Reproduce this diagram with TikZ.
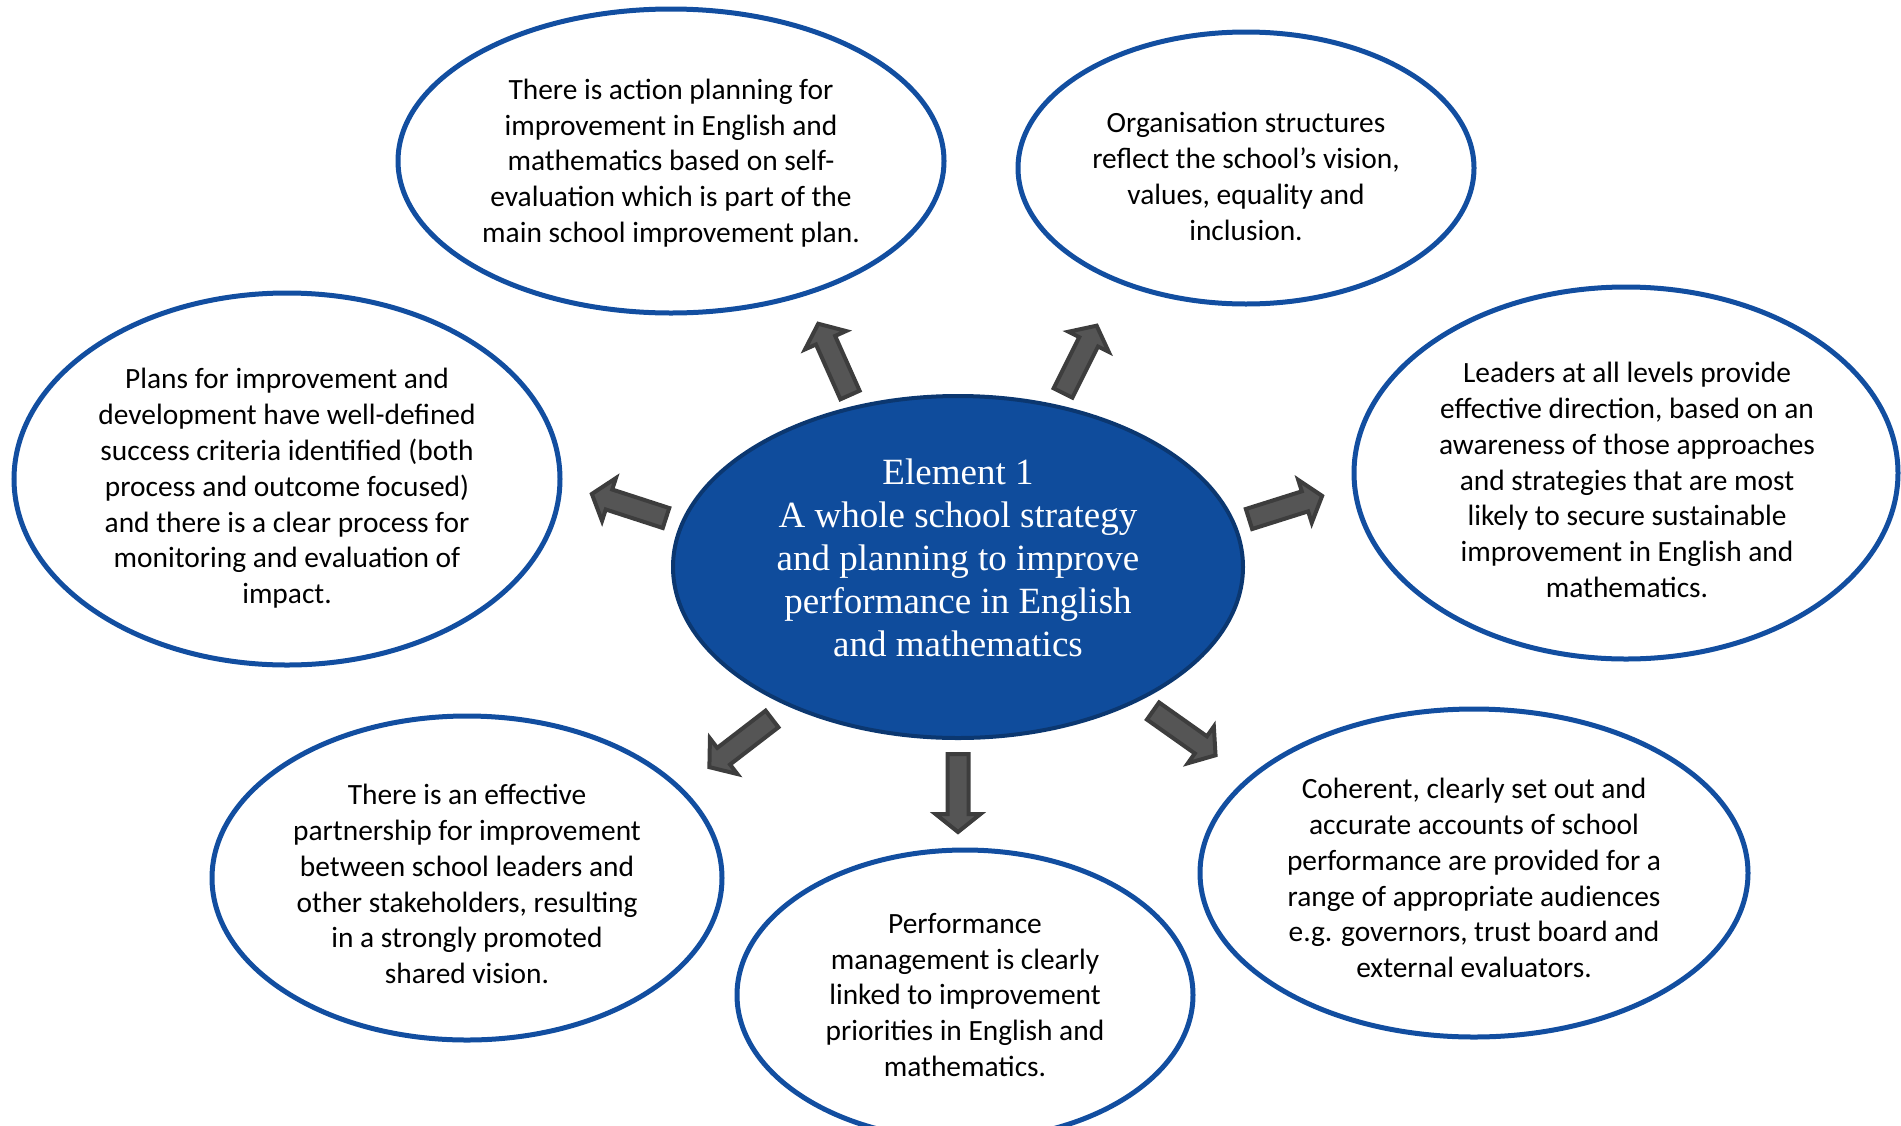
\documentclass[tikz,border=0pt]{standalone}
\usepackage{fontspec}
\setmainfont{Carlito}
\newfontfamily\timesfont{Liberation Serif}
\usetikzlibrary{shapes.geometric,calc}
\definecolor{ringblue}{HTML}{124EA0}
\definecolor{coreblue}{HTML}{0F4C9C}
\definecolor{coreline}{HTML}{0B3770}
\definecolor{arrowfill}{HTML}{555555}
\definecolor{arrowline}{HTML}{3D3D3D}
\tikzset{
 ring/.style={ellipse, draw=ringblue, line width=5pt, fill=white, inner sep=0pt},
 ringtext/.style={inner sep=0pt, align=center, font=\fontsize{29.4}{35.8}\selectfont},
 core/.style={ellipse, draw=coreline, line width=4pt, fill=coreblue, inner sep=0pt},
 coretext/.style={inner sep=0pt, text=white, align=center, font=\timesfont\fontsize{37}{43}\selectfont},
 blk/.style={fill=arrowfill, draw=arrowline, line width=4pt, line join=miter}
}
\newcommand\blkarrow[2]{%
 \draw[blk] let \p1=($(#2)-(#1)$), \n1={atan2(\y1,\x1)}, \n2={veclen(\x1,\y1)} in
  [shift={(#1)}, rotate=\n1] (0pt,-10.5pt) -- (\n2-21pt,-10.5pt) -- (\n2-21pt,-22.5pt) -- (\n2-3pt,0pt) -- (\n2-21pt,22.5pt) -- (\n2-21pt,10.5pt) -- (0pt,10.5pt) -- cycle;}
\begin{document}
\begin{tikzpicture}[x=1pt,y=-1pt]
\path[use as bounding box] (0,0) rectangle (1901,1125);
\clip (0,0) rectangle (1901,1125);
\node[core, minimum width=570pt, minimum height=342pt] (core) at (958,567) {};
\node[coretext] (coret) at (958,558)
 {Element 1\\A whole school strategy\\and planning to improve\\performance in English\\and mathematics};
\node[ring, minimum width=546pt, minimum height=304pt] (e1) at (671,161) {};
\node[ringtext] (e1t) at (671,163)
 {There is action planning for\\improvement in English and\\mathematics based on self-\\evaluation which is part of the\\main school improvement plan.};
\node[ring, minimum width=456pt, minimum height=272pt] (e2) at (1246,168) {};
\node[ringtext] (e2t) at (1246,176.5)
 {Organisation structures\\reflect the school’s vision,\\values, equality and\\inclusion.};
\node[ring, minimum width=546pt, minimum height=372pt] (e3) at (287,479) {};
\node[ringtext] (e3t) at (287,488.5)
 {Plans for improvement and\\development have well-defined\\success criteria identified (both\\process and outcome focused)\\and there is a clear process for\\monitoring and evaluation of\\impact.};
\node[ring, minimum width=544pt, minimum height=372pt] (e4) at (1626,473) {};
\node[ringtext] (e4t) at (1627,480)
 {Leaders at all levels provide\\effective direction, based on an\\awareness of those approaches\\and strategies that are most\\likely to secure sustainable\\improvement in English and\\mathematics.};
\node[ring, minimum width=510pt, minimum height=324pt] (e5) at (467,878) {};
\node[ringtext] (e5t) at (467,884)
 {There is an effective\\partnership for improvement\\between school leaders and\\other stakeholders, resulting\\in a strongly promoted\\shared vision.};
\node[ring, minimum width=456pt, minimum height=290pt] (e6) at (965,995) {};
\node[ringtext] (e6t) at (965,995)
 {Performance\\management is clearly\\linked to improvement\\priorities in English and\\mathematics.};
\node[ring, minimum width=548pt, minimum height=328pt] (e7) at (1474,873) {};
\node[ringtext] (e7t) at (1474,878)
 {Coherent, clearly set out and\\accurate accounts of school\\performance are provided for a\\range of appropriate audiences\\e.g. governors, trust board and\\external evaluators.};
\coordinate (b1) at (850,395); \coordinate (t1) at (817,321);
\coordinate (b2) at (1063,393); \coordinate (t2) at (1098,323);
\coordinate (b3) at (666,518); \coordinate (t3) at (589,493);
\coordinate (b4) at (1249,519); \coordinate (t4) at (1325,495);
\coordinate (b5) at (772,719); \coordinate (t5) at (707,769);
\coordinate (b6) at (958,754); \coordinate (t6) at (958,835);
\coordinate (b7) at (1153,711); \coordinate (t7) at (1218,757);
\blkarrow{b1}{t1}
\blkarrow{b2}{t2}
\blkarrow{b3}{t3}
\blkarrow{b4}{t4}
\blkarrow{b5}{t5}
\blkarrow{b6}{t6}
\blkarrow{b7}{t7}
\end{tikzpicture}
\end{document}
